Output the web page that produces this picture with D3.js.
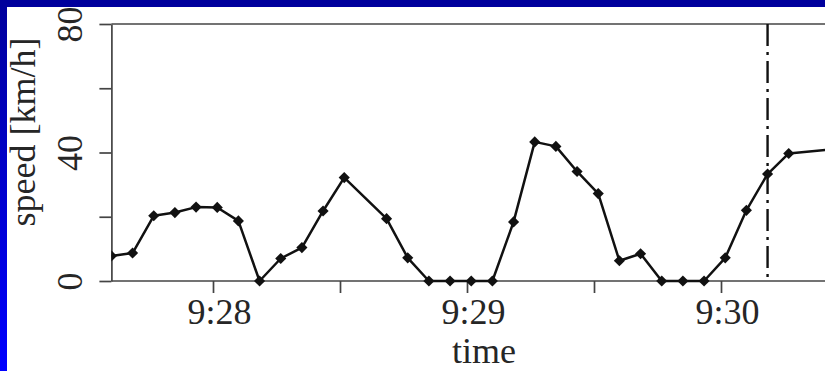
<!DOCTYPE html>
<html>
<head>
<meta charset="utf-8">
<script src="https://cdn.jsdelivr.net/npm/d3@7"></script>
<style>
  body { margin: 0; background: #fff; }
  svg { display: block; }
</style>
</head>
<body>
<script>
// Speed samples, one every 5 s (two samples are missing)
const sampleTimes = [
  "9:27:36", "9:27:41", "9:27:46", "9:27:51", "9:27:56",
  "9:28:01", "9:28:06", "9:28:11", "9:28:16", "9:28:21",
  "9:28:26", "9:28:31", "9:28:41", "9:28:46", "9:28:51",
  "9:28:56", "9:29:01", "9:29:06", "9:29:11", "9:29:16",
  "9:29:21", "9:29:26", "9:29:31", "9:29:36", "9:29:41",
  "9:29:46", "9:29:51", "9:29:56", "9:30:01", "9:30:06",
  "9:30:11", "9:30:16", "9:30:26"
];
const speeds = [
  7.8, 8.7, 20.3, 21.3, 23.0,
  22.9, 18.7, 0, 7.0, 10.4,
  21.8, 32.2, 19.4, 7.2, 0,
  0, 0, 0, 18.4, 43.3,
  41.9, 34.1, 27.2, 6.3, 8.5,
  0, 0, 0, 7.2, 22.0,
  33.3, 39.7, 41.0
];
const markerTime = "9:30:11";           // vertical dash-dot reference line
const xDomain = ["9:27:36", "9:30:30"];
const yDomain = [0, 80];
const yTicks = [0, 20, 40, 60, 80];
const yTickLabels = ["0", "", "40", "", "80"];
const xTickStep = 30;                    // seconds between x ticks
const xLabel = "time";
const yLabel = "speed [km/h]";

const W = 825, H = 371;
const parseT = d3.timeParse("%H:%M:%S");
const data = sampleTimes.map((t, i) => ({ t: parseT(t), v: speeds[i] }));

const plotLeft = 111.4, plotTop = 24, plotBottom = 281;
const pxPerSec = 254 / 60;
const d0 = parseT(xDomain[0]), d1 = parseT(xDomain[1]);
const x = d3.scaleTime()
  .domain([d0, d1])
  .range([plotLeft, plotLeft + (d1 - d0) / 1000 * pxPerSec]);
const y = d3.scaleLinear().domain(yDomain).range([plotBottom, plotTop]);

const svg = d3.select("body").append("svg")
  .attr("width", W).attr("height", H);

// slide background: blue gradient frame with white panel
const defs = svg.append("defs");
const grad = defs.append("linearGradient")
  .attr("id", "bg").attr("x1", 0).attr("y1", 0).attr("x2", 0).attr("y2", 1);
grad.append("stop").attr("offset", "0%").attr("stop-color", "#00009c");
grad.append("stop").attr("offset", "100%").attr("stop-color", "#0000ff");
svg.append("rect").attr("width", W).attr("height", H).attr("fill", "url(#bg)");
svg.append("rect").attr("x", 7).attr("y", 7)
  .attr("width", W - 7).attr("height", H - 7).attr("fill", "#fff");

defs.append("clipPath").attr("id", "plotclip")
  .append("rect").attr("x", plotLeft).attr("y", 0)
  .attr("width", W - plotLeft).attr("height", H);

const font = "'Liberation Serif', 'Times New Roman', serif";
const axisColor = "#444";
const textColor = "#262626";

// frame: top edge
svg.append("line")
  .attr("x1", plotLeft).attr("x2", W)
  .attr("y1", y(yDomain[1])).attr("y2", y(yDomain[1]))
  .attr("stroke", axisColor).attr("stroke-width", 1.7);

// x axis
const xTickVals = d3.timeSecond.every(xTickStep).range(d0, d1);
const xAxis = d3.axisBottom(x)
  .tickValues(xTickVals)
  .tickSize(12)
  .tickSizeOuter(0)
  .tickFormat(d => d.getSeconds() === 0 ? d3.timeFormat("%-H:%M")(d) : "");
const gx = svg.append("g").attr("transform", `translate(0,${plotBottom})`).call(xAxis);
gx.select(".domain").attr("stroke", axisColor).attr("stroke-width", 1.7)
  .attr("d", `M${plotLeft},0H${W}`);
gx.selectAll(".tick line").attr("stroke", axisColor).attr("stroke-width", 1.7);
gx.selectAll(".tick text")
  .attr("y", 43).attr("dy", 0).attr("dx", 6)
  .attr("fill", textColor)
  .style("font-family", font).style("font-size", "36px");

// y axis with rotated labels
const yAxis = d3.axisLeft(y)
  .tickValues(yTicks)
  .tickSize(12)
  .tickSizeOuter(0)
  .tickFormat((d, i) => yTickLabels[i]);
const gy = svg.append("g").attr("transform", `translate(${plotLeft},0)`).call(yAxis);
gy.select(".domain").attr("stroke", axisColor).attr("stroke-width", 1.7);
gy.selectAll(".tick line").attr("stroke", axisColor).attr("stroke-width", 1.7);
gy.selectAll(".tick text")
  .attr("transform", "rotate(-90)")
  .attr("x", 0).attr("y", -29).attr("dy", 0)
  .attr("text-anchor", "middle")
  .attr("fill", textColor)
  .style("font-family", font).style("font-size", "36px");

// axis titles
svg.append("text")
  .attr("x", 484).attr("y", 363)
  .attr("text-anchor", "middle")
  .attr("fill", textColor)
  .style("font-family", font).style("font-size", "36px")
  .text(xLabel);
svg.append("text")
  .attr("transform", "translate(35,132) rotate(-90)")
  .attr("text-anchor", "middle")
  .attr("fill", textColor)
  .style("font-family", font).style("font-size", "36px")
  .text(yLabel);

// reference time line
const mt = parseT(markerTime);
svg.append("line")
  .attr("x1", x(mt)).attr("x2", x(mt))
  .attr("y1", y(yDomain[1])).attr("y2", y(yDomain[0]))
  .attr("stroke", "#111").attr("stroke-width", 2.4)
  .attr("stroke-dasharray", "22,6,3,6");

// speed trace
const plot = svg.append("g").attr("clip-path", "url(#plotclip)");
plot.append("path")
  .datum(data)
  .attr("fill", "none")
  .attr("stroke", "#111")
  .attr("stroke-width", 2.5)
  .attr("stroke-linejoin", "round")
  .attr("d", d3.line().x(d => x(d.t)).y(d => y(d.v)));

const diamond = d3.symbol().type(d3.symbolSquare).size(62);
plot.selectAll("path.pt")
  .data(data)
  .join("path")
  .attr("class", "pt")
  .attr("d", diamond)
  .attr("transform", d => `translate(${x(d.t)},${y(d.v)}) rotate(45)`)
  .attr("fill", "#111");
</script>
</body>
</html>
